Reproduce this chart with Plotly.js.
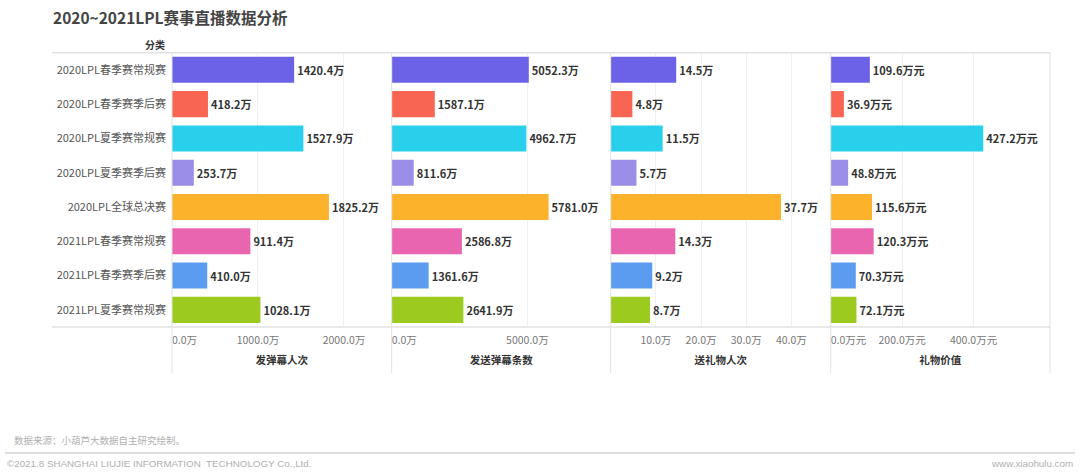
<!DOCTYPE html>
<html>
<head>
<meta charset="utf-8">
<script src="https://cdn.plot.ly/plotly-3.0.1.min.js"></script>
<style>
html,body{margin:0;padding:0;background:#fff;}
#chart{width:1080px;height:473px;}
</style>
</head>
<body>
<div id="chart"></div>
<script>
const categories = [
  "2020LPL春季赛常规赛",
  "2020LPL春季赛季后赛",
  "2020LPL夏季赛常规赛",
  "2020LPL夏季赛季后赛",
  "2020LPL全球总决赛",
  "2021LPL春季赛常规赛",
  "2021LPL春季赛季后赛",
  "2021LPL夏季赛常规赛"
];
const danmuUsers = [1420.4, 418.2, 1527.9, 253.7, 1825.2, 911.4, 410.0, 1028.1];
const danmuCount = [5052.3, 1587.1, 4962.7, 811.6, 5781.0, 2586.8, 1361.6, 2641.9];
const giftUsers = [14.5, 4.8, 11.5, 5.7, 37.7, 14.3, 9.2, 8.7];
const giftValue = [109.6, 36.9, 427.2, 48.8, 115.6, 120.3, 70.3, 72.1];
const barColors = ["#6c62e8", "#f96553", "#28d0ec", "#9b8ee9", "#fdb22c", "#ea65b0", "#5c9cf0", "#9cca1f"];

const panelTitles = ["发弹幕人次", "发送弹幕条数", "送礼物人次", "礼物价值"];
const panelUnits = ["万", "万", "万", "万元"];
const panelTickVals = [[1000, 2000], [5000], [10, 20, 30, 40], [200, 400]];
const panelTickText = [
  ["1000.0万", "2000.0万"],
  ["5000.0万"],
  ["10.0万", "20.0万", "30.0万", "40.0万"],
  ["200.0万元", "400.0万元"]
];
const zeroTickText = ["0.0万", "0.0万", null, "0.0万元"];
const panelRanges = [[0, 2555], [0, 8070], [0, 48.7], [0, 614]];
const seriesList = [danmuUsers, danmuCount, giftUsers, giftValue];

const W = 1080, H = 473;
const FONT = '"Noto Sans CJK SC", "Noto Sans", sans-serif';
const px = v => v / W;
const py = v => 1 - v / H;

const edges = [172, 391.7, 610.7, 830.7, 1050];
const plotTop = 52.7, plotBottom = 327;

const traces = seriesList.map((vals, i) => ({
  type: 'bar',
  orientation: 'h',
  y: categories,
  x: vals,
  xaxis: i === 0 ? 'x' : 'x' + (i + 1),
  yaxis: 'y',
  marker: {color: barColors},
  text: vals.map(v => v.toFixed(1) + panelUnits[i]),
  texttemplate: '%{text}',
  textposition: 'outside',
  cliponaxis: false,
  textfont: {family: FONT, size: 11, color: '#333', weight: 'bold'},
  hoverinfo: 'y+x',
  showlegend: false
}));

const layout = {
  width: W, height: H,
  margin: {l: 0, r: 0, t: 0, b: 0},
  paper_bgcolor: '#fff',
  plot_bgcolor: 'rgba(0,0,0,0)',
  bargap: 0.24,
  barmode: 'group',
  font: {family: FONT, size: 11, color: '#555'},
  title: {
    text: '2020~2021LPL赛事直播数据分析',
    x: px(53), xanchor: 'left', y: py(19), yanchor: 'middle',
    font: {family: FONT, size: 15.5, color: '#444', weight: 'bold'}
  },
  yaxis: {
    type: 'category',
    domain: [py(plotBottom), py(plotTop)],
    range: [7.5, -0.5],
    anchor: 'x',
    showgrid: false, zeroline: false, showline: false,
    ticks: '', ticklabelstandoff: 5,
    tickfont: {family: FONT, size: 11, color: '#555'},
    fixedrange: true
  },
  shapes: [],
  annotations: []
};

for (let i = 0; i < 4; i++) {
  const key = i === 0 ? 'xaxis' : 'xaxis' + (i + 1);
  layout[key] = {
    domain: [px(edges[i]), px(edges[i + 1])],
    anchor: 'y',
    range: panelRanges[i],
    showgrid: true, gridcolor: '#f0f0f0', gridwidth: 1,
    zeroline: false, showline: false,
    ticks: '',
    tickvals: panelTickVals[i],
    ticktext: panelTickText[i],
    ticklabelstandoff: 5,
    tickfont: {family: FONT, size: 10.5, color: '#777'},
    title: {text: panelTitles[i], standoff: 11, font: {family: FONT, size: 10.5, color: '#333', weight: 'bold'}},
    fixedrange: true
  };
}
// extra axes carrying only the zero label, left-aligned at the axis origin
let extra = 5;
for (let i = 0; i < 4; i++) {
  if (!zeroTickText[i]) continue;
  const id = 'x' + extra;
  layout['xaxis' + extra] = {
    domain: [px(edges[i]), px(edges[i + 1])],
    anchor: 'y',
    side: 'bottom',
    range: panelRanges[i],
    showgrid: false, zeroline: false, showline: false,
    ticks: '',
    tickmode: 'array',
    tickvals: [0],
    ticktext: [zeroTickText[i]],
    ticklabelposition: 'outside right',
    ticklabelstandoff: 5,
    tickfont: {family: FONT, size: 10.5, color: '#777'},
    fixedrange: true
  };
  traces.push({type: 'scatter', mode: 'markers', x: [0], y: [categories[0]], xaxis: id, yaxis: 'y',
    marker: {size: 0.1, opacity: 0}, hoverinfo: 'skip', showlegend: false});
  extra++;
}

const lineColor = '#e2e2e2';
layout.shapes.push({type: 'line', xref: 'paper', yref: 'paper', x0: px(52), x1: px(1050), y0: py(plotTop), y1: py(plotTop), line: {color: lineColor, width: 1.5}});
layout.shapes.push({type: 'line', xref: 'paper', yref: 'paper', x0: px(52), x1: px(1050), y0: py(plotBottom), y1: py(plotBottom), line: {color: lineColor, width: 1.5}});
edges.forEach(e => {
  layout.shapes.push({type: 'line', xref: 'paper', yref: 'paper', x0: px(e), x1: px(e), y0: py(plotTop), y1: py(373), line: {color: lineColor, width: 1}});
});
layout.shapes.push({type: 'line', xref: 'paper', yref: 'paper', x0: px(5), x1: px(1075), y0: py(453), y1: py(453), line: {color: '#dcdcdc', width: 2}});

layout.annotations.push({text: '分类', xref: 'paper', yref: 'paper', x: px(167), y: py(45), xanchor: 'right', yanchor: 'middle', showarrow: false, font: {family: FONT, size: 10, color: '#333', weight: 'bold'}});
layout.annotations.push({text: '数据来源：小葫芦大数据自主研究绘制。', xref: 'paper', yref: 'paper', x: px(12), y: py(440), xanchor: 'left', yanchor: 'middle', showarrow: false, font: {family: FONT, size: 9.5, color: '#b0b0b0'}});
layout.annotations.push({text: '©2021.8 SHANGHAI LIUJIE INFORMATION  TECHNOLOGY Co.,Ltd.', xref: 'paper', yref: 'paper', x: px(5), y: py(463), xanchor: 'left', yanchor: 'middle', showarrow: false, font: {family: '"Liberation Sans Narrow", "Liberation Sans", sans-serif', size: 9.8, color: '#b0b0b0'}});
layout.annotations.push({text: 'www.xiaohulu.com', xref: 'paper', yref: 'paper', x: px(1075), y: py(463), xanchor: 'right', yanchor: 'middle', showarrow: false, font: {family: '"Liberation Sans Narrow", "Liberation Sans", sans-serif', size: 9.8, color: '#b0b0b0'}});

Plotly.newPlot('chart', traces, layout, {displayModeBar: false, staticPlot: true});
</script>
</body>
</html>
